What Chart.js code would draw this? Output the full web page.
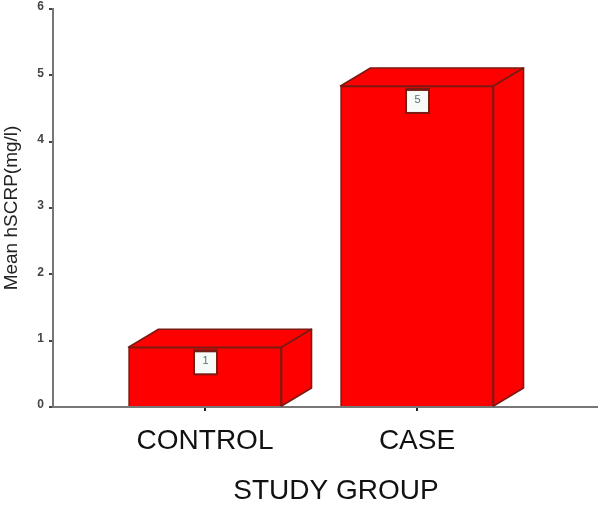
<!DOCTYPE html>
<html><head><meta charset="utf-8">
<style>html,body{margin:0;padding:0;background:#fff}canvas{display:block;filter:blur(0.45px)}</style>
<script src="https://cdn.jsdelivr.net/npm/chart.js@4"></script></head>
<body><canvas id="c" width="600" height="508"></canvas>
<script>
const categories = ["CONTROL", "CASE"];
const meanHsCrp = [0.9, 4.84];
const valueLabels = ["1", "5"];
const yTicks = [0, 1, 2, 3, 4, 5, 6];
const xTitle = "STUDY GROUP";
const yTitle = "Mean hSCRP(mg/l)";

const depth3d = {
  id: "depth3d",
  afterDatasetsDraw(chart) {
    const ctx = chart.ctx, dx = 30, dy = 18;
    chart.getDatasetMeta(0).data.forEach((bar, i) => {
      const l = bar.x - bar.width / 2, r = bar.x + bar.width / 2, t = bar.y, b = bar.base;
      ctx.save();
      ctx.fillStyle = "#ff0000";
      ctx.strokeStyle = "#7a1a12";
      ctx.lineWidth = 1.6;
      ctx.lineJoin = "round";
      ctx.beginPath();
      ctx.moveTo(l, t); ctx.lineTo(l + dx, t - dy); ctx.lineTo(r + dx, t - dy); ctx.lineTo(r, t); ctx.closePath();
      ctx.fill(); ctx.stroke();
      ctx.beginPath();
      ctx.moveTo(r, t); ctx.lineTo(r + dx, t - dy); ctx.lineTo(r + dx, b - dy); ctx.lineTo(r, b); ctx.closePath();
      ctx.fill(); ctx.stroke();
      const bx = bar.x - 10, by = t + 3, w = 23, h = 24;
      ctx.fillStyle = "#7a1a12";
      ctx.fillRect(bx - 2, by - 1, w + 2, h + 2);
      ctx.fillStyle = "#f6fbf8";
      ctx.fillRect(bx, by + 2, w - 2, h - 3);
      ctx.fillStyle = "#5d6b78";
      ctx.font = "11px 'Liberation Sans'";
      ctx.textAlign = "center";
      ctx.textBaseline = "middle";
      ctx.fillText(valueLabels[i], bx + w / 2 - 1, by + h / 2 - 1);
      ctx.restore();
    });
    ctx.save();
    ctx.fillStyle = "#111";
    ctx.font = "28px 'Liberation Sans'";
    ctx.textAlign = "center";
    ctx.textBaseline = "middle";
    ctx.fillText(xTitle, 336, 491);
    ctx.restore();
  }
};

new Chart(document.getElementById("c"), {
  type: "bar",
  plugins: [depth3d],
  data: {
    datasets: [{
      data: categories.map((c, i) => ({ x: i, y: meanHsCrp[i] })),
      backgroundColor: "#ff0000",
      borderColor: "#7a1a12",
      borderWidth: 1.6,
      barThickness: 153
    }]
  },
  options: {
    responsive: false,
    animation: false,
    layout: { padding: { top: 9, right: 3, left: 0, bottom: 0 } },
    plugins: { legend: { display: false }, tooltip: { enabled: false } },
    scales: {
      x: {
        type: "linear",
        offset: false,
        min: -0.717,
        max: 1.849,
        afterBuildTicks(s) { s.ticks = categories.map((c, i) => ({ value: i })); },
        afterFit(s) { s.height = 101; s.paddingLeft = 0; s.paddingRight = 0; },
        grid: { offset: false, drawOnChartArea: false, tickLength: 4, tickColor: "#222", lineWidth: 2 },
        border: { color: "#777", width: 2 },
        ticks: {
          autoSkip: false, maxRotation: 0, padding: 13,
          color: "#111",
          font: { family: "'Liberation Sans'", size: 28 },
          callback: v => categories[v]
        }
      },
      y: {
        min: 0,
        max: 6,
        afterBuildTicks(s) { s.ticks = yTicks.map(v => ({ value: v })); },
        afterFit(s) { s.width = 53; s.paddingTop = 0; s.paddingBottom = 0; },
        grid: { drawOnChartArea: false, tickLength: 4, tickColor: "#444", lineWidth: 2 },
        border: { color: "#777", width: 2 },
        title: {
          display: true, text: yTitle, color: "#222",
          font: { family: "'Liberation Sans'", size: 19 },
          padding: { top: 0, bottom: 0 }
        },
        ticks: {
          padding: 5, labelOffset: -2,
          color: "#444",
          font: { family: "'Liberation Sans'", size: 12, weight: "bold" }
        }
      }
    }
  }
});
</script></body></html>
